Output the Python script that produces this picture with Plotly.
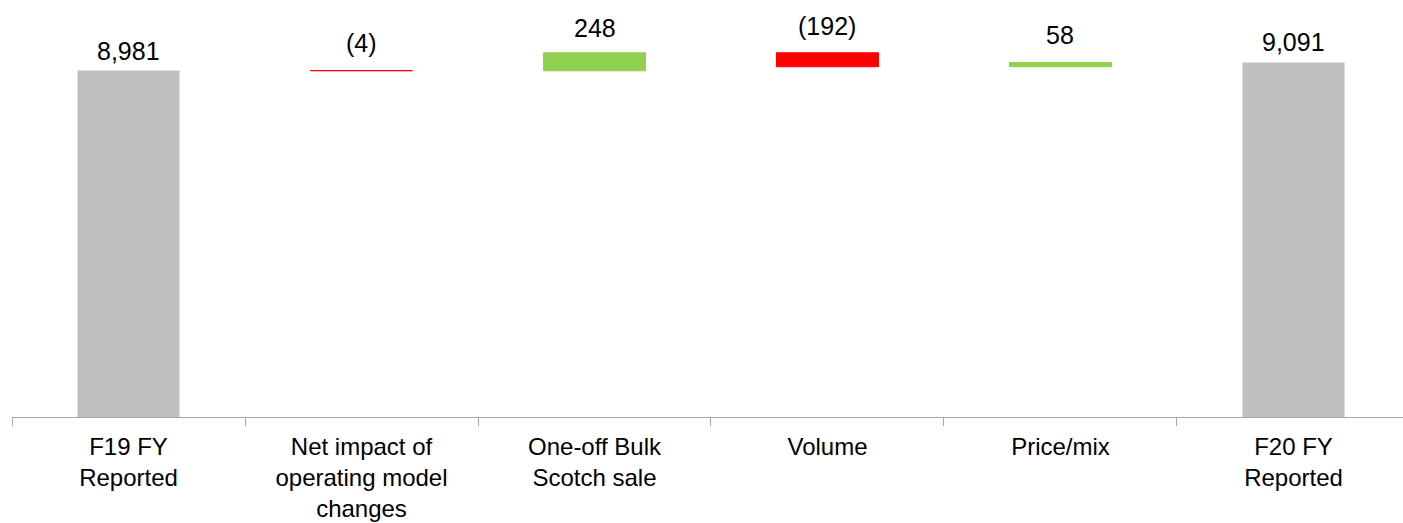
import plotly.graph_objects as go

categories = ["F19 FY<br>Reported", "Net impact of<br>operating model<br>changes",
              "One-off Bulk<br>Scotch sale", "Volume", "Price/mix", "F20 FY<br>Reported"]
measures = ["absolute", "relative", "relative", "relative", "relative", "total"]
values = [8981, -4, 248, -192, 58, 0]

# label vertical gaps (px) above bar tops
label_shift = [4, 12, 9, 11, 12, 5]

GREY = "#BFBFBF"
GREEN = "#92D050"
RED = "#FF0000"
FONT = "Liberation Sans, Arial, sans-serif"

fig = go.Figure()
fig.add_trace(go.Waterfall(
    x=categories, measure=measures, y=values,
    width=0.438,
    connector=dict(visible=False),
    increasing=dict(marker=dict(color=GREEN, line=dict(color=GREEN, width=1))),
    decreasing=dict(marker=dict(color=RED, line=dict(color=RED, width=1))),
    totals=dict(marker=dict(color=GREY, line=dict(color=GREY, width=0))),
    textposition="none",
    hoverinfo="skip",
))

# compute bar tops and label texts from data
running = 0
tops = []
labels = []
for m, v in zip(measures, values):
    if m == "absolute":
        running = v
        tops.append(v)
        labels.append(f"{v:,}")
    elif m == "total":
        tops.append(running)
        labels.append(f"{running:,}")
    else:
        prev = running
        running += v
        tops.append(max(prev, running))
        labels.append(f"{v:,}" if v >= 0 else f"({abs(v):,})")

for cat, top, lab, sh in zip(categories, tops, labels, label_shift):
    fig.add_annotation(x=cat, y=top, text=lab, showarrow=False,
                       yanchor="bottom", yshift=sh,
                       font=dict(family=FONT, size=25, color="#000000"))

fig.update_layout(
    width=1403, height=523,
    margin=dict(l=12, r=0, t=0, b=106),
    plot_bgcolor="white", paper_bgcolor="white",
    showlegend=False,
    font=dict(family=FONT, size=24, color="#000000"),
    xaxis=dict(
        type="category",
        range=[-0.5, 5.47],
        showline=True, linecolor="#A6A6A6", linewidth=1,
        ticks="outside", tickson="boundaries", ticklen=8, tickcolor="#A6A6A6", tickwidth=1,
        ticklabelstandoff=8,
        showgrid=False, zeroline=False,
        tickfont=dict(family=FONT, size=24, color="#000000"),
    ),
    yaxis=dict(visible=False, range=[4215, 9951], showgrid=False, zeroline=False),
)

fig.write_html("out.html")
